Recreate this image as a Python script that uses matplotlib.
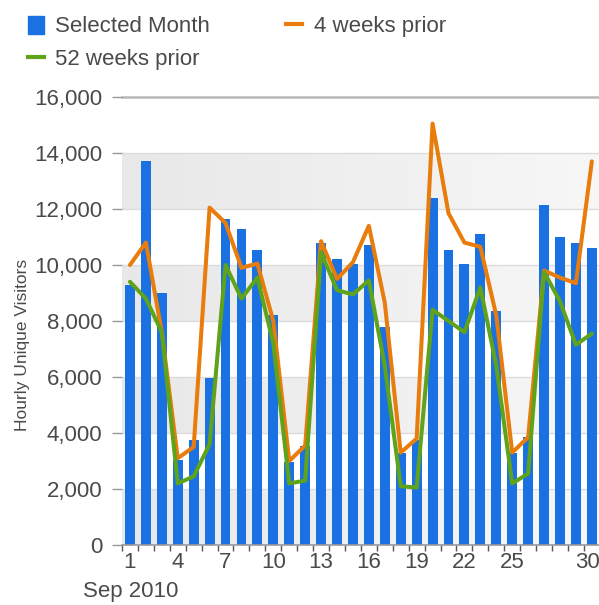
import numpy as np
import matplotlib
matplotlib.use("Agg")
import matplotlib.pyplot as plt
import matplotlib.transforms as mtransforms
from matplotlib.lines import Line2D
from matplotlib.patches import Patch

plt.rcParams["font.family"] = ["Liberation Sans", "DejaVu Sans"]

days = list(range(1, 31))
selected_month = [9300, 13700, 9000, 3050, 3750, 5950, 11650, 11300, 10550, 8200,
                  2950, 3550, 10800, 10200, 10050, 10700, 7800, 3300, 3750, 12400,
                  10550, 10050, 11100, 8350, 3300, 3850, 12150, 11000, 10800, 10600]
four_weeks_prior = [10000, 10800, 7600, 3100, 3500, 12050, 11500, 9900, 10050, 8000,
                    3000, 3550, 10850, 9500, 10100, 11400, 8650, 3300, 3800, 15050,
                    11850, 10800, 10650, 8200, 3300, 3850, 9800, 9550, 9350, 13700]
fifty_two_weeks_prior = [9400, 8800, 7600, 2200, 2450, 3600, 10000, 8800, 9550, 7200,
                         2200, 2300, 10450, 9100, 8950, 9450, 6400, 2100, 2050, 8400,
                         8000, 7600, 9200, 6400, 2200, 2550, 9750, 8700, 7150, 7550]
x_labels = [1, 4, 7, 10, 13, 16, 19, 22, 25, 30]
y_ticks = list(range(0, 16001, 2000))

blue = "#1a72e2"
orange = "#e87c0c"
green = "#5fa31b"
text_color = "#4a4a4a"

fig = plt.figure(figsize=(5.99, 6.05), dpi=100)
ax = fig.add_axes([122 / 599, 60 / 605, 477 / 599, 448 / 605])

xlim = (0.5, 30.45)
ax.set_xlim(*xlim)
ax.set_ylim(0, 16000)

# alternating grey bands with a light horizontal fade
grad = np.linspace(0, 1, 256).reshape(1, -1)
cmap = matplotlib.colors.LinearSegmentedColormap.from_list("band", ["#e8e8e8", "#f7f7f7"])
for y0 in range(0, 16000, 4000):
    ax.imshow(grad, extent=(xlim[0], xlim[1], y0, y0 + 2000), aspect="auto",
              cmap=cmap, zorder=0, interpolation="bilinear")
for y in y_ticks[1:-1]:
    ax.axhline(y, color="#dcdcdc", lw=1, zorder=0.5)
ax.axhline(16000, color="#b8b8b8", lw=1.8, zorder=0.5, clip_on=False)

ax.bar(days, selected_month, width=0.62, color=blue, zorder=2)
ax.plot(days, four_weeks_prior, color=orange, lw=2.9, zorder=3,
        solid_joinstyle="round", solid_capstyle="round")
ax.plot(days, fifty_two_weeks_prior, color=green, lw=2.9, zorder=4,
        solid_joinstyle="round", solid_capstyle="round")

for s in ["top", "right", "left"]:
    ax.spines[s].set_visible(False)
ax.spines["bottom"].set_color("#999999")
ax.spines["bottom"].set_linewidth(1.2)

ax.set_yticks(y_ticks)
ax.set_yticklabels([f"{v:,}" for v in y_ticks])
ax.tick_params(axis="y", length=7, width=1, color="#999999", pad=7,
               labelsize=16, labelcolor=text_color)

ax.set_xticks(x_labels)
ax.set_xticklabels([str(d) for d in x_labels])
ax.set_xticks(np.arange(0.5, 30.5, 1), minor=True)
ax.tick_params(axis="x", which="major", length=0, pad=5, labelsize=16,
               labelcolor=text_color)
ax.tick_params(axis="x", which="minor", length=4, width=1, color="#555555")
# last label sits against the right edge like in the original
last = ax.get_xticklabels()[-1]
last.set_ha("right")
last.set_transform(last.get_transform()
                   + mtransforms.ScaledTranslation(6 / 72, 0, fig.dpi_scale_trans))

fig.text(23 / 599, 1 - 345 / 605, "Hourly Unique Visitors", rotation=90,
         ha="center", va="center", fontsize=12.5, color=text_color)
fig.text(83 / 599, 1 - 592 / 605, "Sep 2010", ha="left", va="center",
         fontsize=16, color=text_color)

handles = [Patch(color=blue),
           Line2D([], [], color=green, lw=3),
           Line2D([], [], color=orange, lw=3)]
labels = ["Selected Month", "52 weeks prior", "4 weeks prior"]
fig.legend(handles, labels, ncol=2, loc="upper left",
           bbox_to_anchor=(12 / 599, 1 - 0 / 605), frameon=False,
           fontsize=16, labelcolor=text_color, handlelength=0.75,
           handleheight=0.9, handletextpad=0.5, columnspacing=3.4,
           labelspacing=0.5, borderaxespad=0.3)

fig.savefig("out.png", dpi=100)
